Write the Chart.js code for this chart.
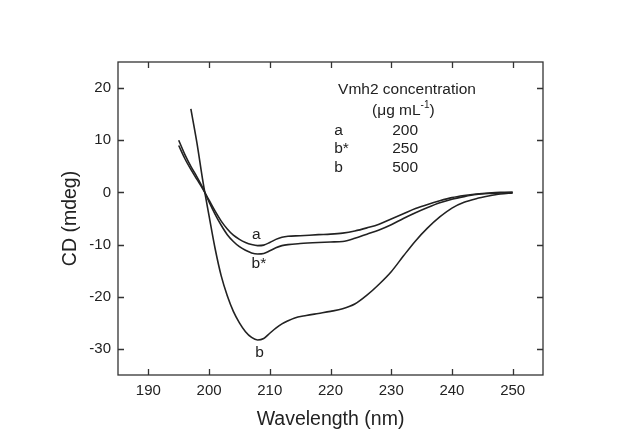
<!DOCTYPE html>
<html>
<head>
<meta charset="utf-8">
<script src="https://cdn.jsdelivr.net/npm/chart.js@4.4.1/dist/chart.umd.min.js"></script>
<style>
    html, body { margin: 0; padding: 0; background: #fff; }
    #wrap { width: 624px; height: 442px; }
</style>
</head>
<body>
<div id="wrap"><canvas id="cdChart" width="624" height="442"></canvas></div>
<script>
// CD spectra of Vmh2 at three concentrations
const wavelengthA = [195, 196, 197, 198, 199, 200, 201, 202, 203, 204, 205, 206, 207, 208, 209, 210, 211, 212, 213, 215, 218, 220, 222, 224, 226, 228, 230, 232, 234, 236, 238, 240, 242, 244, 246, 248, 250];
const cdA = [9.0, 6.5, 4.4, 2.5, 0.6, -1.5, -3.6, -5.5, -7.0, -8.2, -9.0, -9.6, -10.0, -10.2, -10.1, -9.6, -9.0, -8.6, -8.4, -8.3, -8.1, -8.0, -7.8, -7.4, -6.8, -6.1, -5.1, -4.1, -3.1, -2.3, -1.6, -1.0, -0.6, -0.3, -0.1, 0, 0];

const wavelengthBstar = [195, 196, 197, 198, 199, 200, 201, 202, 203, 204, 205, 206, 207, 208, 209, 210, 211, 212, 213, 215, 218, 220, 222, 224, 226, 228, 230, 232, 234, 236, 238, 240, 242, 244, 246, 248, 250];
const cdBstar = [10.0, 7.3, 5.0, 3.0, 0.8, -1.8, -4.2, -6.3, -8.1, -9.4, -10.4, -11.1, -11.6, -11.8, -11.7, -11.2, -10.6, -10.2, -10.0, -9.8, -9.6, -9.5, -9.4, -8.8, -8.0, -7.2, -6.2, -5.0, -3.9, -2.9, -2.0, -1.3, -0.8, -0.4, -0.2, -0.1, 0];

const wavelengthB = [197, 198, 199, 200, 201, 202, 203, 204, 205, 206, 207, 208, 209, 210, 211, 212, 213, 214, 216, 218, 220, 222, 224, 226, 228, 230, 232, 234, 236, 238, 240, 242, 244, 246, 248, 250];
const cdB = [16.0, 9.5, 2.0, -4.5, -10.8, -16.0, -19.8, -22.8, -25.0, -26.7, -27.8, -28.3, -28.0, -27.0, -26.0, -25.2, -24.6, -24.1, -23.6, -23.2, -22.8, -22.3, -21.4, -19.7, -17.6, -15.2, -12.2, -9.3, -6.8, -4.7, -3.0, -1.9, -1.2, -0.7, -0.3, -0.1];

const xTicks = [190, 200, 210, 220, 230, 240, 250];
const yTicks = [-30, -20, -10, 0, 10, 20];

const legendTitle = 'Vmh2 concentration';
const legendNames = ['a', 'b*', 'b'];
const legendValues = ['200', '250', '500'];

// label anchors for the curves (wavelength, CD)
const curveLabels = [
    { text: 'a', x: 207.8, y: -8.1 },
    { text: 'b*', x: 208.2, y: -13.7 },
    { text: 'b', x: 208.3, y: -30.8 }
];

const FONT = 'Arial, "Liberation Sans", sans-serif';
const INK = '#222';

function toXY(xs, ys) {
    return xs.map((x, i) => ({ x: x, y: ys[i] }));
}

// frame plus inward ticks on all four sides
const framePlugin = {
    id: 'frame',
    afterDatasetsDraw(chart) {
        const { ctx, chartArea: a, scales } = chart;
        const len = 6;
        ctx.save();
        ctx.strokeStyle = '#333';
        ctx.lineWidth = 1.3;
        ctx.strokeRect(a.left, a.top, a.right - a.left, a.bottom - a.top);
        ctx.beginPath();
        xTicks.forEach(v => {
            const px = Math.round(scales.x.getPixelForValue(v)) + 0.5;
            ctx.moveTo(px, a.bottom); ctx.lineTo(px, a.bottom - len);
            ctx.moveTo(px, a.top); ctx.lineTo(px, a.top + len);
        });
        yTicks.forEach(v => {
            const py = Math.round(scales.y.getPixelForValue(v)) + 0.5;
            ctx.moveTo(a.left, py); ctx.lineTo(a.left + len, py);
            ctx.moveTo(a.right, py); ctx.lineTo(a.right - len, py);
        });
        ctx.stroke();
        ctx.restore();
    }
};

// concentration table and curve letters
const notesPlugin = {
    id: 'notes',
    afterDatasetsDraw(chart) {
        const { ctx, scales } = chart;
        const X = v => scales.x.getPixelForValue(v);
        const Y = v => scales.y.getPixelForValue(v);
        ctx.save();
        ctx.fillStyle = INK;
        ctx.textBaseline = 'middle';
        ctx.font = '15.5px ' + FONT;

        ctx.textAlign = 'center';
        ctx.fillText(legendTitle, X(232.6), Y(19.6));

        // (µg mL^-1) with superscript
        const main1 = '(\u03bcg mL', sup = '-1', main2 = ')';
        const w1 = ctx.measureText(main1).width;
        const w3 = ctx.measureText(main2).width;
        ctx.font = '10px ' + FONT;
        const w2 = ctx.measureText(sup).width;
        let sx = X(232.0) - (w1 + w2 + w3) / 2;
        const uy = Y(15.6);
        ctx.textAlign = 'left';
        ctx.font = '15.5px ' + FONT;
        ctx.fillText(main1, sx, uy);
        ctx.font = '10px ' + FONT;
        ctx.fillText(sup, sx + w1, uy - 6);
        ctx.font = '15.5px ' + FONT;
        ctx.fillText(main2, sx + w1 + w2, uy);

        const rowY = [11.9, 8.3, 4.7];
        legendNames.forEach((n, i) => {
            ctx.textAlign = 'left';
            ctx.fillText(n, X(220.6), Y(rowY[i]));
            ctx.textAlign = 'center';
            ctx.fillText(legendValues[i], X(232.3), Y(rowY[i]));
        });

        ctx.textAlign = 'center';
        curveLabels.forEach(l => ctx.fillText(l.text, X(l.x), Y(l.y)));
        ctx.restore();
    }
};

const lineStyle = {
    borderColor: INK,
    borderWidth: 1.6,
    pointRadius: 0,
    fill: false,
    cubicInterpolationMode: 'monotone'
};

new Chart(document.getElementById('cdChart'), {
    type: 'line',
    data: {
        datasets: [
            Object.assign({ label: 'a', data: toXY(wavelengthA, cdA) }, lineStyle),
            Object.assign({ label: 'b*', data: toXY(wavelengthBstar, cdBstar) }, lineStyle),
            Object.assign({ label: 'b', data: toXY(wavelengthB, cdB) }, lineStyle)
        ]
    },
    options: {
        responsive: false,
        animation: false,
        layout: { padding: { top: 62, right: 81, left: 0, bottom: 0 } },
        plugins: {
            legend: { display: false },
            tooltip: { enabled: false }
        },
        scales: {
            x: {
                type: 'linear',
                min: 185,
                max: 255,
                afterBuildTicks: s => { s.ticks = xTicks.map(v => ({ value: v })); },
                afterFit: s => { s.height = 67; },
                grid: { display: false, drawTicks: false },
                border: { display: false },
                ticks: { padding: 7, color: INK, font: { family: FONT, size: 15 }, maxRotation: 0 },
                title: {
                    display: true,
                    text: 'Wavelength (nm)',
                    color: INK,
                    font: { family: FONT, size: 19.5 },
                    padding: { top: 0, bottom: 11 }
                }
            },
            y: {
                type: 'linear',
                min: -35,
                max: 25,
                afterBuildTicks: s => { s.ticks = yTicks.map(v => ({ value: v })); },
                afterFit: s => { s.width = 118; },
                grid: { display: false, drawTicks: false },
                border: { display: false },
                ticks: { padding: 7, color: INK, font: { family: FONT, size: 15 } },
                title: {
                    display: true,
                    text: 'CD (mdeg)',
                    color: INK,
                    font: { family: FONT, size: 19.5 },
                    padding: { top: 59, bottom: 0 }
                }
            }
        }
    },
    plugins: [framePlugin, notesPlugin]
});
</script>
</body>
</html>
